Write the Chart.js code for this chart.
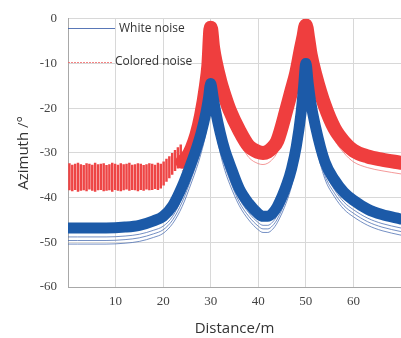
<!DOCTYPE html>
<html lang="en">
<head>
    <meta charset="UTF-8">
    <title>Azimuth vs Distance</title>
    <script src="https://cdn.jsdelivr.net/npm/chart.js"></script>
    <style>
        body { margin: 0; background: #fff; }
        #chartContainer { width: 401px; height: 338px; }
    </style>
</head>
<body>
    <div id="chartContainer">
        <canvas id="noiseChart"></canvas>
    </div>

    <script>
        // sample positions along distance (m)
        var xs = [0, 4, 8, 12, 15, 18, 20, 22, 24, 26, 27, 28, 29, 29.5, 30, 30.5, 31, 32, 33, 34, 36, 38, 40, 41, 42, 43, 44, 46, 47, 48, 49, 49.5, 50, 50.5, 51, 52, 54, 56, 58, 60, 63, 66, 70];

        // white noise: main band + three outlier runs
        var whiteBand = [-46.8, -46.8, -46.8, -46.6, -46.2, -45.2, -44.2, -41.8, -37.5, -32, -29, -25.5, -21, -18, -14.5, -17.5, -20.5, -25.5, -29.5, -32.5, -38, -41.3, -43.6, -44.2, -44.2, -43.5, -42, -37, -33.5, -28.5, -21, -15.5, -10, -14.5, -18.5, -24, -32, -36, -38.8, -40.6, -42.6, -43.8, -44.8];
        var whiteRun1 = [-48.8, -48.8, -48.8, -48.6, -48.2, -47.3, -46.4, -44.2, -40, -34.5, -31.5, -28, -23.5, -20, -16.5, -19.5, -23, -28, -32, -35, -40.2, -43.4, -45.6, -46.2, -46.2, -45.5, -44, -39.2, -35.8, -30.8, -23.3, -17.5, -12, -16.5, -20.5, -26.2, -34.2, -38.2, -41, -42.7, -44.6, -45.8, -46.8];
        var whiteRun2 = [-49.6, -49.6, -49.6, -49.4, -49, -48.1, -47.2, -45, -41, -35.5, -32.5, -29, -24.5, -21, -17.3, -20.3, -23.8, -29, -33, -36, -41, -44.2, -46.4, -47, -47, -46.3, -44.8, -40, -36.6, -31.6, -24, -18.3, -12.8, -17.3, -21.3, -27, -35, -39, -41.8, -43.5, -45.4, -46.6, -47.6];
        var whiteRun3 = [-50.4, -50.4, -50.4, -50.2, -49.8, -48.9, -48, -45.8, -42, -36.5, -33.5, -30, -25.5, -22, -18, -21, -24.6, -30, -34, -37, -41.8, -45, -47.2, -47.8, -47.8, -47.1, -45.6, -40.8, -37.4, -32.4, -24.8, -19, -13.5, -18, -22, -27.8, -35.8, -39.8, -42.6, -44.3, -46.2, -47.4, -48.4];

        // colored noise: main band from 24 m on
        var redXs = [24, 25, 26, 27, 28, 29, 29.5, 30, 30.5, 31, 32, 33, 34, 36, 38, 40, 41, 42, 43, 44, 46, 47, 48, 49, 49.5, 50, 50.5, 51, 52, 54, 56, 58, 60, 63, 66, 70];
        var coloredBand = [-32, -31, -29, -26, -21.5, -15, -10.5, -2, -6.5, -9.5, -14, -17.5, -20.5, -25, -28.5, -29.8, -30, -29.7, -28.8, -27.3, -20, -16, -12, -6.5, -4, -1.5, -4.5, -8, -12.5, -19.5, -24.5, -27.5, -29.5, -30.8, -31.5, -32.2];
        var coloredRun = [-34, -33.5, -31.5, -28.5, -24, -17.5, -13, -5, -9, -12, -16.5, -20, -23, -27.5, -31, -32.4, -32.6, -32.3, -31.4, -29.8, -22.5, -18.5, -14.5, -9, -6.5, -4, -7, -10.5, -15, -22, -27, -30, -32, -33.3, -34, -34.7];

        // colored noise before 24 m swings up and down: one stripe every 0.6 m from 0.3 m
        var stripeStart = 0.3, stripeStep = 0.6;
        var stripeTop = [-32.4, -32.7, -32.5, -32.3, -32.6, -32.8, -32.4, -32.5, -32.7, -32.3, -32.6, -32.5, -32.4, -32.8, -32.6, -32.3, -32.5, -32.7, -32.4, -32.6, -32.5, -32.3, -32.7, -32.6, -32.4, -32.5, -32.8, -32.6, -32.4, -32.5, -32.7, -32.3, -32.5,
                         -32, -31.4, -30.8, -30.1, -29.4, -28.8, -28.2];
        var stripeBottom = [-38.3, -38.5, -38.2, -38.6, -38.4, -38.3, -38.5, -38.1, -38.4, -38.6, -38.3, -38.2, -38.5, -38.4, -38.3, -38.6, -38.2, -38.4, -38.5, -38.3, -38.1, -38.4, -38.2, -38.3, -38.5, -38.2, -38.4, -38.1, -38.3, -38.2, -38, -38.2, -37.9,
                            -37.2, -36.4, -35.6, -34.8, -34, -33.4, -32.8];

        var xTicks = [10, 20, 30, 40, 50, 60];

        var BLUE = '#1c5aa8';
        var BLUE_THIN = 'rgba(70, 105, 175, 0.75)';
        var RED = '#ef3e3e';
        var RED_THIN = 'rgba(240, 110, 110, 0.7)';

        function pairs(xv, yv) {
            return yv.map((y, i) => ({ x: xv[i], y: y }));
        }

        function line(data, color, width, order) {
            return {
                type: 'scatter',
                data: data,
                borderColor: color,
                backgroundColor: color,
                borderWidth: width,
                showLine: true,
                pointRadius: 0,
                cubicInterpolationMode: 'monotone',
                borderJoinStyle: 'round',
                borderCapStyle: 'round',
                order: order
            };
        }

        var legendPlugin = {
            id: 'cornerLegend',
            afterDatasetsDraw(chart) {
                const ctx = chart.ctx;
                const area = chart.chartArea;
                ctx.save();
                ctx.lineWidth = 1.2;
                ctx.strokeStyle = 'rgba(60, 95, 170, 0.85)';
                ctx.beginPath();
                ctx.moveTo(area.left, 28.5); ctx.lineTo(area.left + 47, 28.5);
                ctx.stroke();
                ctx.strokeStyle = 'rgba(240, 100, 100, 0.8)';
                ctx.setLineDash([2, 1]);
                ctx.beginPath();
                ctx.moveTo(area.left, 62.5); ctx.lineTo(area.left + 44, 62.5);
                ctx.stroke();
                ctx.setLineDash([]);
                ctx.fillStyle = '#333';
                ctx.font = '12px "Open Sans"';
                ctx.textBaseline = 'middle';
                ctx.fillText('White noise', area.left + 51, 29);
                ctx.fillText('Colored noise', area.left + 47, 62);
                ctx.restore();
            }
        };

        var ctx = document.getElementById('noiseChart').getContext('2d');

        var noiseChart = new Chart(ctx, {
            type: 'scatter',
            data: {
                datasets: [
                    line(pairs(xs, whiteBand), BLUE, 11, 0),
                    line(pairs(xs, whiteRun1), BLUE_THIN, 1, 1),
                    line(pairs(xs, whiteRun2), BLUE_THIN, 1, 1),
                    line(pairs(xs, whiteRun3), BLUE_THIN, 1, 1),
                    line(pairs(redXs, coloredBand), RED, 14, 2),
                    line(pairs(redXs, coloredRun), RED_THIN, 1, 3),
                    {
                        type: 'bar',
                        data: stripeTop.map((t, i) => ({ x: stripeStart + i * stripeStep, y: [stripeBottom[i], t] })),
                        backgroundColor: '#ee4545',
                        borderWidth: 0,
                        barThickness: 1.8,
                        order: 4
                    }
                ]
            },
            options: {
                responsive: true,
                maintainAspectRatio: false,
                animation: false,
                layout: { padding: { top: 11, right: 0, left: 0, bottom: 0 } },
                plugins: {
                    legend: { display: false },
                    tooltip: { enabled: false }
                },
                scales: {
                    x: {
                        type: 'linear',
                        min: 0,
                        max: 70,
                        offset: false,
                        afterFit: scale => { scale.height = 51; },
                        afterBuildTicks: scale => { scale.ticks = xTicks.map(v => ({ value: v })); },
                        grid: { color: '#d8d8d8', drawTicks: false, offset: false },
                        border: { color: '#a8a8a8' },
                        ticks: {
                            padding: 7,
                            color: '#444',
                            font: { family: '"Liberation Serif"', size: 13 }
                        },
                        title: {
                            display: true,
                            text: 'Distance/m',
                            color: '#333',
                            font: { family: '"Open Sans"', size: 15 },
                            padding: { top: 4, bottom: 0 }
                        }
                    },
                    y: {
                        type: 'linear',
                        min: -60,
                        max: 0,
                        afterFit: scale => { scale.width = 68; },
                        grid: { color: '#d8d8d8', drawTicks: false },
                        border: { color: '#a8a8a8' },
                        ticks: {
                            stepSize: 10,
                            padding: 11,
                            color: '#444',
                            font: { family: '"Liberation Serif"', size: 13 }
                        },
                        title: {
                            display: true,
                            text: 'Azimuth /°',
                            color: '#333',
                            font: { family: '"Open Sans"', size: 15 },
                            padding: { top: 15, bottom: 0 }
                        }
                    }
                }
            },
            plugins: [legendPlugin]
        });
    </script>
</body>
</html>
